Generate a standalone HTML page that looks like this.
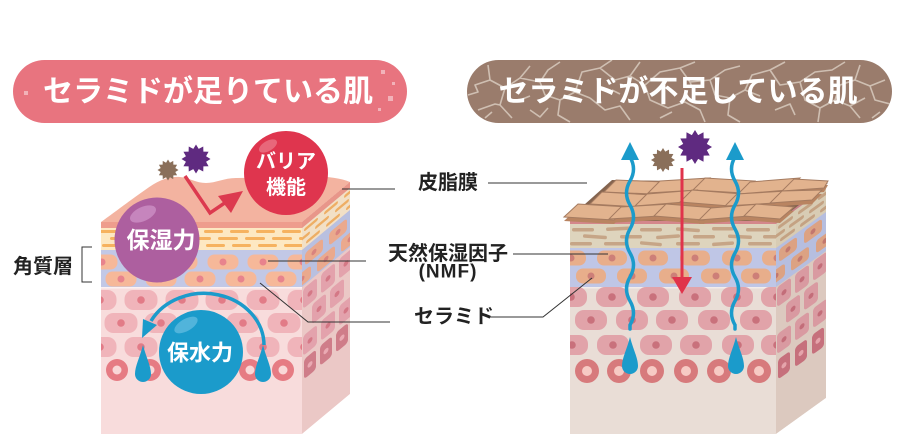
<!DOCTYPE html>
<html><head><meta charset="utf-8">
<style>
html,body{margin:0;padding:0;background:#fff;width:911px;height:436px;overflow:hidden}
svg{display:block}
text{font-family:"Liberation Sans","Noto Sans CJK JP",sans-serif;font-weight:700}
</style></head><body>
<svg width="911" height="436" viewBox="0 0 911 436" xmlns="http://www.w3.org/2000/svg">
<defs>
<clipPath id="lf"><rect x="101" y="222" width="201" height="212"/></clipPath>
<clipPath id="rf"><rect x="570" y="217" width="206" height="217"/></clipPath>
<clipPath id="ls"><rect x="0" y="222" width="48" height="212"/></clipPath>
<clipPath id="rs"><rect x="0" y="217" width="50" height="217"/></clipPath>
<clipPath id="rp"><rect x="467" y="60" width="425" height="63" rx="31.5"/></clipPath>
<polygon id="star" points="0,-1 .186,-.695 .5,-.866 .509,-.509 .866,-.5 .695,-.186 1,0 .695,.186 .866,.5 .509,.509 .5,.866 .186,.695 0,1 -.186,.695 -.5,.866 -.509,.509 -.866,.5 -.695,.186 -1,0 -.695,-.186 -.866,-.5 -.509,-.509 -.5,-.866 -.186,-.695"/>
<g id="lcA"><rect x="-15.5" y="-7.5" width="31" height="15" rx="7" fill="#f6b899"/><circle r="3.5" fill="#e8838d"/></g>
<g id="lcP"><rect x="-16.5" y="-10" width="33" height="20" rx="9" fill="#f0b4ba"/><circle r="3.8" fill="#e27b87"/></g>
<g id="lR"><circle r="11" fill="#e67b83"/><circle r="4.5" fill="#f9d7d7"/></g>
<g id="rcA"><rect x="-15" y="-7.5" width="30" height="15" rx="7" fill="#e8ae8b"/><circle r="3.5" fill="#cd7f78"/></g>
<g id="rcP"><rect x="-16" y="-10" width="32" height="20" rx="9" fill="#e1a3a9"/><circle r="3.8" fill="#c9717c"/></g>
<g id="rR"><circle r="12" fill="#d77a7c"/><circle r="5" fill="#f7cac4"/></g>
<g id="lsC"><rect x="-7" y="-10" width="14" height="20" rx="3" fill="#e3a2ac"/><circle r="2.5" fill="#d47886"/></g>
<g id="lsD"><rect x="-6" y="-10" width="12" height="20" rx="3" fill="#cf7d89"/><circle r="2.5" fill="#eaaab3"/></g>
<g id="lsB"><rect x="-9" y="-6.5" width="18" height="13" rx="3" fill="#eaa98d"/><circle r="2.5" fill="#d9837f"/></g>
<g id="rsC"><rect x="-7" y="-10" width="14" height="20" rx="3" fill="#d99aa1"/><circle r="2.5" fill="#c36d79"/></g>
<g id="rsD"><rect x="-6" y="-10" width="12" height="20" rx="3" fill="#c6707c"/><circle r="2.5" fill="#e5a4ab"/></g>
<g id="rsB"><rect x="-9" y="-6.5" width="18" height="13" rx="3" fill="#dca283"/><circle r="2.5" fill="#c2776f"/></g>
</defs>

<!-- ===== Title pills ===== -->
<rect x="13" y="60" width="394" height="63" rx="31.5" fill="#e8747f"/>
<g fill="#fff" opacity="0.45">
<rect x="381" y="70" width="4" height="4"/><rect x="388" y="96" width="5" height="5"/><rect x="378" y="108" width="3" height="3"/><rect x="24" y="91" width="4" height="4"/><rect x="392" y="82" width="3" height="3"/>
</g>
<text x="208" y="92" font-size="30" fill="#fff" text-anchor="middle" dominant-baseline="central">セラミドが足りている肌</text>

<rect x="467" y="60" width="425" height="63" rx="31.5" fill="#9a7c6c"/>
<g clip-path="url(#rp)" fill="none" stroke="#cfbfb2" stroke-width="1.6" stroke-linejoin="round">
<path d="M468,95 L478,92 L475,85 L490,80 L505,88 L520,78 L540,82 L548,70 L560,62 M490,80 L488,65 M505,88 L500,105 L512,118 M478,110 L495,104 L500,105 M520,78 L530,66 M540,82 L545,95 L560,100 L575,92 L590,98 M560,100 L558,115 L570,122 M575,92 L582,72 L600,68 L612,60 M600,68 L615,80 L630,76 L645,85 M590,98 L605,110 L620,106 L630,120 M630,76 L640,62 M645,85 L660,72 L680,68 L695,62 M645,85 L650,100 L668,108 L685,102 L700,110 L705,122 M680,68 L690,82 L710,80 L725,70 L740,66 M710,80 L715,95 L730,98 L745,90 L760,96 M730,98 L728,115 L740,122 M745,90 L752,75 L770,70 L785,62 M770,70 L780,85 L800,82 L815,72 L832,70 L845,62 M800,82 L805,100 L820,108 L835,100 L850,106 L865,98 M820,108 L818,122 M835,100 L840,85 L855,80 L870,86 L885,80 M855,80 L860,65 M850,106 L860,118 M870,86 L875,100 L890,104 M485,118 L492,112 M530,110 L540,117 L548,108 M612,90 L620,94 M660,118 L672,112 M690,82 L694,92 M775,110 L790,104 L795,115 M880,112 L872,118 M520,100 L530,96"/>
</g>
<text x="678" y="92" font-size="30" fill="#fff" text-anchor="middle" dominant-baseline="central">セラミドが不足している肌</text>

<!-- ===== Left block front ===== -->
<g clip-path="url(#lf)">
<rect x="101" y="222" width="201" height="212" fill="#f8dcdc"/>
<rect x="101" y="228" width="201" height="22" fill="#fde8c2"/>
<rect x="101" y="222" width="201" height="6" fill="#ee9d8d"/>
<g fill="#f6b25f">
<rect x="100" y="230" width="19" height="3" rx="1.5"/><rect x="126" y="230" width="19" height="3" rx="1.5"/><rect x="152" y="230" width="19" height="3" rx="1.5"/><rect x="178" y="230" width="19" height="3" rx="1.5"/><rect x="204" y="230" width="19" height="3" rx="1.5"/><rect x="230" y="230" width="19" height="3" rx="1.5"/><rect x="256" y="230" width="19" height="3" rx="1.5"/><rect x="282" y="230" width="19" height="3" rx="1.5"/>
<rect x="110" y="237" width="20" height="3" rx="1.5"/><rect x="137" y="237" width="20" height="3" rx="1.5"/><rect x="164" y="237" width="20" height="3" rx="1.5"/><rect x="191" y="237" width="20" height="3" rx="1.5"/><rect x="218" y="237" width="20" height="3" rx="1.5"/><rect x="245" y="237" width="20" height="3" rx="1.5"/><rect x="272" y="237" width="20" height="3" rx="1.5"/><rect x="299" y="237" width="20" height="3" rx="1.5"/>
<rect x="102" y="244" width="19" height="3" rx="1.5"/><rect x="128" y="244" width="19" height="3" rx="1.5"/><rect x="154" y="244" width="19" height="3" rx="1.5"/><rect x="180" y="244" width="19" height="3" rx="1.5"/><rect x="206" y="244" width="19" height="3" rx="1.5"/><rect x="232" y="244" width="19" height="3" rx="1.5"/><rect x="258" y="244" width="19" height="3" rx="1.5"/><rect x="284" y="244" width="19" height="3" rx="1.5"/>
</g>
<rect x="101" y="250" width="201" height="37" fill="#c2c8e6"/>
<rect x="101" y="287" width="201" height="1.5" fill="#fbf0f2"/>
<use href="#lcA" x="102" y="262"/><use href="#lcA" x="142" y="262"/><use href="#lcA" x="182" y="262"/><use href="#lcA" x="223" y="262"/><use href="#lcA" x="263" y="262"/><use href="#lcA" x="303" y="262"/>
<use href="#lcA" x="121" y="279"/><use href="#lcA" x="161" y="279"/><use href="#lcA" x="200" y="279"/><use href="#lcA" x="241" y="279"/><use href="#lcA" x="281" y="279"/>
<use href="#lcP" x="100" y="300"/><use href="#lcP" x="141" y="300"/><use href="#lcP" x="182" y="300"/><use href="#lcP" x="222" y="300"/><use href="#lcP" x="263" y="300"/><use href="#lcP" x="304" y="300"/>
<use href="#lcP" x="121" y="323"/><use href="#lcP" x="161" y="323"/><use href="#lcP" x="202" y="323"/><use href="#lcP" x="243" y="323"/><use href="#lcP" x="284" y="323"/>
<use href="#lcP" x="100" y="347"/><use href="#lcP" x="141" y="347"/><use href="#lcP" x="182" y="347"/><use href="#lcP" x="222" y="347"/><use href="#lcP" x="263" y="347"/><use href="#lcP" x="304" y="347"/>
<use href="#lR" x="117" y="370"/><use href="#lR" x="150" y="370"/><use href="#lR" x="183" y="370"/><use href="#lR" x="217" y="370"/><use href="#lR" x="250" y="370"/><use href="#lR" x="283" y="370"/>
</g>

<!-- Left block side -->
<g transform="matrix(1,-0.833,0,1,302,0)">
<g clip-path="url(#ls)">
<rect x="0" y="222" width="48" height="212" fill="#ebc8c6"/>
<rect x="0" y="222" width="48" height="6" fill="#e8968a"/>
<rect x="0" y="228" width="48" height="22" fill="#f2e0c6"/>
<g fill="#eeae64">
<rect x="2" y="230.5" width="14" height="3" rx="1.5"/><rect x="22" y="230.5" width="14" height="3" rx="1.5"/><rect x="42" y="230.5" width="14" height="3" rx="1.5"/>
<rect x="-6" y="237.5" width="14" height="3" rx="1.5"/><rect x="13" y="237.5" width="14" height="3" rx="1.5"/><rect x="33" y="237.5" width="14" height="3" rx="1.5"/>
<rect x="4" y="244.5" width="14" height="3" rx="1.5"/><rect x="24" y="244.5" width="14" height="3" rx="1.5"/><rect x="44" y="244.5" width="14" height="3" rx="1.5"/>
</g>
<rect x="0" y="250" width="48" height="37" fill="#b9c0e0"/>
<use href="#lsB" x="12" y="262"/><use href="#lsB" x="36" y="262"/>
<use href="#lsB" x="0" y="279"/><use href="#lsB" x="24" y="279"/><use href="#lsB" x="48" y="279"/>
<use href="#lsC" x="8" y="300"/><use href="#lsC" x="26" y="300"/><use href="#lsC" x="44" y="300"/>
<use href="#lsC" x="17" y="323"/><use href="#lsC" x="35" y="323"/>
<use href="#lsC" x="8" y="347"/><use href="#lsC" x="26" y="347"/><use href="#lsC" x="44" y="347"/>
<use href="#lsD" x="8" y="371"/><use href="#lsD" x="24" y="371"/><use href="#lsD" x="40" y="371"/>
</g>
</g>

<!-- sebum -->
<path d="M101,222 C112,214 128,202 145,190 C157,181 168,176 180,177 C190,178 196,183 206,183 C216,183 224,178 236,178 L300,177 C322,176 338,177 350,182 L302,222 Z" fill="#f3b3a0"/>
<polygon points="302,222 350,182 350,188 302,228" fill="#e8968a"/>

<!-- ===== Right block front ===== -->
<g clip-path="url(#rf)">
<rect x="570" y="217" width="206" height="217" fill="#e9ddd6"/>
<rect x="570" y="217" width="206" height="7" fill="#d4878b"/>
<rect x="570" y="224" width="206" height="24" fill="#ded4bd"/>
<g fill="#c6a587">
<rect x="572" y="228" width="22" height="3.5" rx="1.7"/><rect x="606" y="227" width="24" height="3.5" rx="1.7" transform="rotate(-3 618 228)"/><rect x="640" y="228" width="22" height="3.5" rx="1.7"/><rect x="676" y="228" width="24" height="3.5" rx="1.7" transform="rotate(4 688 229)"/><rect x="712" y="227" width="22" height="3.5" rx="1.7"/><rect x="746" y="228" width="24" height="3.5" rx="1.7"/>
<rect x="583" y="235" width="24" height="3.5" rx="1.7" transform="rotate(4 595 236)"/><rect x="620" y="235" width="22" height="3.5" rx="1.7"/><rect x="656" y="235" width="24" height="3.5" rx="1.7" transform="rotate(-4 668 236)"/><rect x="693" y="235" width="22" height="3.5" rx="1.7"/><rect x="728" y="235" width="24" height="3.5" rx="1.7" transform="rotate(3 740 236)"/><rect x="763" y="235" width="22" height="3.5" rx="1.7"/>
<rect x="570" y="242" width="22" height="3.5" rx="1.7"/><rect x="604" y="242" width="24" height="3.5" rx="1.7"/><rect x="640" y="242" width="22" height="3.5" rx="1.7" transform="rotate(5 651 243)"/><rect x="676" y="242" width="24" height="3.5" rx="1.7"/><rect x="712" y="242" width="22" height="3.5" rx="1.7" transform="rotate(-4 723 243)"/><rect x="748" y="242" width="24" height="3.5" rx="1.7"/>
</g>
<rect x="570" y="248" width="206" height="39" fill="#bfc6e6"/>
<rect x="570" y="287" width="206" height="1.5" fill="#f3ecea"/>
<use href="#rcA" x="571" y="258"/><use href="#rcA" x="612" y="258"/><use href="#rcA" x="653" y="258"/><use href="#rcA" x="695" y="258"/><use href="#rcA" x="737" y="258"/><use href="#rcA" x="777" y="258"/>
<use href="#rcA" x="591" y="276"/><use href="#rcA" x="632" y="276"/><use href="#rcA" x="674" y="276"/><use href="#rcA" x="716" y="276"/><use href="#rcA" x="756" y="276"/>
<use href="#rcP" x="571" y="297"/><use href="#rcP" x="612" y="297"/><use href="#rcP" x="653" y="297"/><use href="#rcP" x="695" y="297"/><use href="#rcP" x="737" y="297"/><use href="#rcP" x="777" y="297"/>
<use href="#rcP" x="591" y="320"/><use href="#rcP" x="632" y="320"/><use href="#rcP" x="672" y="320"/><use href="#rcP" x="714" y="320"/><use href="#rcP" x="756" y="320"/>
<use href="#rcP" x="572" y="345"/><use href="#rcP" x="613" y="345"/><use href="#rcP" x="656" y="345"/><use href="#rcP" x="696" y="345"/><use href="#rcP" x="738" y="345"/><use href="#rcP" x="777" y="345"/>
<use href="#rR" x="587" y="371"/><use href="#rR" x="619" y="371"/><use href="#rR" x="652" y="371"/><use href="#rR" x="686" y="371"/><use href="#rR" x="719" y="371"/><use href="#rR" x="759" y="371"/>
</g>

<!-- Right block side -->
<g transform="matrix(1,-0.72,0,1,776,0)">
<g clip-path="url(#rs)">
<rect x="0" y="217" width="50" height="217" fill="#dcc9bf"/>
<rect x="0" y="217" width="50" height="7" fill="#c98288"/>
<rect x="0" y="224" width="50" height="24" fill="#d8ccb4"/>
<g fill="#c4a283">
<rect x="2" y="227.5" width="15" height="3.5" rx="1.7"/><rect x="22" y="227.5" width="15" height="3.5" rx="1.7"/><rect x="42" y="227.5" width="15" height="3.5" rx="1.7"/>
<rect x="-6" y="234.5" width="15" height="3.5" rx="1.7"/><rect x="13" y="234.5" width="15" height="3.5" rx="1.7"/><rect x="33" y="234.5" width="15" height="3.5" rx="1.7"/>
<rect x="4" y="241.5" width="15" height="3.5" rx="1.7"/><rect x="24" y="241.5" width="15" height="3.5" rx="1.7"/><rect x="44" y="241.5" width="15" height="3.5" rx="1.7"/>
</g>
<rect x="0" y="248" width="50" height="39" fill="#b6bedf"/>
<use href="#rsB" x="12" y="258"/><use href="#rsB" x="37" y="258"/>
<use href="#rsB" x="0" y="276"/><use href="#rsB" x="24" y="276"/><use href="#rsB" x="49" y="276"/>
<use href="#rsC" x="8" y="298"/><use href="#rsC" x="26" y="298"/><use href="#rsC" x="44" y="298"/>
<use href="#rsC" x="17" y="321"/><use href="#rsC" x="35" y="321"/>
<use href="#rsC" x="8" y="345"/><use href="#rsC" x="26" y="345"/><use href="#rsC" x="44" y="345"/>
<use href="#rsD" x="8" y="371"/><use href="#rsD" x="25" y="371"/><use href="#rsD" x="42" y="371"/>
</g>
</g>

<!-- flakes -->
<polygon points="566,221 778,221 828,183 612,180" fill="#84644f"/>
<g>
<g fill="#b98461" transform="translate(0,4)">
<polygon points="604,192 652,194 664,182 616,180"/><polygon points="648,193 698,190 710,178 660,181"/><polygon points="693,190 743,193 755,181 705,178"/><polygon points="738,194 788,190 800,178 750,182"/><polygon points="782,191 824,188 828,181 794,179"/>
</g>
<g fill="#e2b38e" stroke="#a57b60" stroke-width="1">
<polygon points="604,192 652,194 664,182 616,180"/><polygon points="648,193 698,190 710,178 660,181"/><polygon points="693,190 743,193 755,181 705,178"/><polygon points="738,194 788,190 800,178 750,182"/><polygon points="782,191 824,188 828,181 794,179"/>
</g>
<g fill="#b98461" transform="translate(0,4)">
<polygon points="590,204 640,207 652,195 602,192"/><polygon points="635,206 685,202 697,190 647,194"/><polygon points="680,202 730,206 742,194 692,190"/><polygon points="725,206 775,203 787,191 737,194"/><polygon points="770,203 812,200 822,190 782,191"/>
</g>
<g fill="#e2b38e" stroke="#a57b60" stroke-width="1">
<polygon points="590,204 640,207 652,195 602,192"/><polygon points="635,206 685,202 697,190 647,194"/><polygon points="680,202 730,206 742,194 692,190"/><polygon points="725,206 775,203 787,191 737,194"/><polygon points="770,203 812,200 822,190 782,191"/>
</g>
<g fill="#b98461" transform="translate(0,4)">
<polygon points="564,217 614,220 628,207 578,204"/><polygon points="609,219 659,216 671,204 621,207"/><polygon points="654,216 704,220 716,208 666,204"/><polygon points="699,220 749,216 761,204 711,208"/><polygon points="744,216 780,219 794,207 756,204"/>
</g>
<g fill="#e2b38e" stroke="#a57b60" stroke-width="1">
<polygon points="564,217 614,220 628,207 578,204"/><polygon points="609,219 659,216 671,204 621,207"/><polygon points="654,216 704,220 716,208 666,204"/><polygon points="699,220 749,216 761,204 711,208"/><polygon points="744,216 780,219 794,207 756,204"/>
</g>
</g>

<!-- right arrows -->
<g fill="none" stroke="#1b9bcb" stroke-width="3.5" stroke-linecap="round">
<path d="M630,157 Q637,169 630,181 T630,205 T630,229 T630,253 T630,277 T630,301 T630,325 L630,329"/>
<path d="M735,157 Q728,169 735,181 T735,205 T735,229 T735,253 T735,277 T735,301 T735,325 L735,329"/>
</g>
<g fill="#1b9bcb">
<polygon points="630,142 621,160 639,160"/><polygon points="735,142 726,160 744,160"/>
<path d="M630,337 C633,349 638,358 638,366 A8,8 0 0 1 622,366 C622,358 627,349 630,337Z"/>
<path d="M736,337 C739,349 744,358 744,366 A8,8 0 0 1 728,366 C728,358 733,349 736,337Z"/>
</g>
<line x1="682" y1="168" x2="682" y2="280" stroke="#e0334b" stroke-width="3"/>
<polygon points="672,277 692,277 682,294" fill="#e0334b"/>
<use href="#star" transform="translate(663,160) scale(12)" fill="#8a6f5a"/>
<use href="#star" transform="translate(695,147) scale(17)" fill="#5f2a80"/>

<!-- left overlays -->
<use href="#star" transform="translate(168,170) scale(10.5)" fill="#8a6f5a"/>
<use href="#star" transform="translate(196,159) scale(14.5)" fill="#5f2a80"/>
<polyline points="185,176 210,213 232,198" fill="none" stroke="#dc3a4f" stroke-width="3.5"/>
<polygon points="243,191 218,196 231,213" fill="#dc3a4f"/>

<circle cx="286" cy="173" r="42" fill="#df354e"/>
<ellipse cx="268" cy="146" rx="10" ry="5" transform="rotate(-30 268 146)" fill="#ea7486" opacity="0.8"/>
<text x="286" y="162" font-size="20" fill="#fff" text-anchor="middle" dominant-baseline="central">バリア</text>
<text x="286" y="188" font-size="20" fill="#fff" text-anchor="middle" dominant-baseline="central">機能</text>

<circle cx="157" cy="240" r="42.5" fill="#ad5f9f"/>
<ellipse cx="143" cy="214" rx="14" ry="7" transform="rotate(-25 143 214)" fill="#c98ac0" opacity="0.9"/>
<text x="161" y="240" font-size="23" fill="#fff" text-anchor="middle" dominant-baseline="central">保湿力</text>

<path d="M264,345 A60,52 0 0,0 151,321" fill="none" stroke="#1b9bcb" stroke-width="3.5"/>
<polygon points="142,338 157,325 143,319" fill="#1b9bcb"/>
<g fill="#1b9bcb">
<path d="M143,345 C146,357 151,366 151,374 A8,8 0 0 1 135,374 C135,366 140,357 143,345Z"/>
<path d="M263,345 C266,357 271,366 271,374 A8,8 0 0 1 255,374 C255,366 260,357 263,345Z"/>
</g>
<circle cx="201" cy="352" r="42" fill="#1b9bcb"/>
<ellipse cx="186" cy="325" rx="13" ry="6" transform="rotate(-30 186 325)" fill="#5ab8de" opacity="0.85"/>
<text x="200" y="353" font-size="22" fill="#fff" text-anchor="middle" dominant-baseline="central">保水力</text>

<!-- labels & leader lines -->
<g stroke="#333" stroke-width="1" fill="none">
<line x1="342" y1="189" x2="395" y2="189"/>
<line x1="488" y1="183" x2="587" y2="183"/>
<line x1="268" y1="261" x2="366" y2="261"/>
<line x1="513" y1="254" x2="608" y2="254"/>
<polyline points="260,283 308,322 390,322"/>
<polyline points="487,317 543,317 592,278"/>
<path d="M92,247 H82 V282 H92"/>
</g>
<g fill="#222">
<text x="418" y="183" font-size="20" dominant-baseline="central">皮脂膜</text>
<text x="388" y="254" font-size="20" dominant-baseline="central">天然保湿因子</text>
<text x="448" y="272" font-size="19" text-anchor="middle" dominant-baseline="central" letter-spacing="1">(NMF)</text>
<text x="414" y="317" font-size="20" dominant-baseline="central">セラミド</text>
<text x="13" y="267" font-size="20" dominant-baseline="central">角質層</text>
</g>
</svg>
</body></html>
